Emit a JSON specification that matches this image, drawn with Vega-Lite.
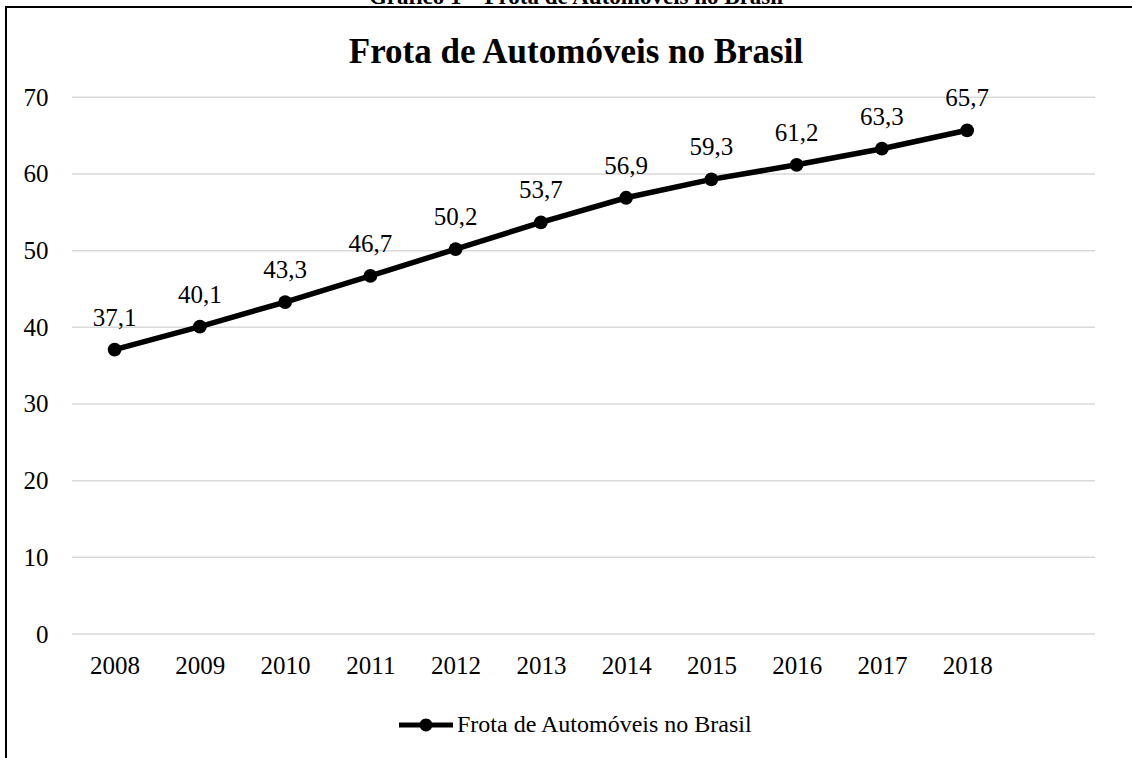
{
  "$schema": "https://vega.github.io/schema/vega-lite/v6.json",
  "width": 1140,
  "height": 770,
  "autosize": "none",
  "padding": {"left": 6, "top": 7, "right": 0, "bottom": 0},
  "background": "white",
  "config": {
    "font": "Liberation Serif",
    "locale": {"number": {"decimal": ",", "thousands": ".", "grouping": [3], "currency": ["", ""]}},
    "view": {"stroke": "#000000", "strokeWidth": 2}
  },
  "title": {
    "text": "Gráfico 1 – Frota de Automóveis no Brasil",
    "subtitle": "Frota de Automóveis no Brasil",
    "font": "Liberation Serif",
    "fontSize": 23,
    "fontWeight": "bold",
    "color": "#000000",
    "subtitleFont": "Liberation Serif",
    "subtitleFontSize": 35,
    "subtitleFontWeight": "bold",
    "subtitleColor": "#000000",
    "anchor": "middle",
    "frame": "group",
    "offset": -63,
    "subtitlePadding": 26
  },
  "datasets": {
    "frota": [
      {"ano": 2008, "frota": 37.1, "serie": "Frota de Automóveis no Brasil"},
      {"ano": 2009, "frota": 40.1, "serie": "Frota de Automóveis no Brasil"},
      {"ano": 2010, "frota": 43.3, "serie": "Frota de Automóveis no Brasil"},
      {"ano": 2011, "frota": 46.7, "serie": "Frota de Automóveis no Brasil"},
      {"ano": 2012, "frota": 50.2, "serie": "Frota de Automóveis no Brasil"},
      {"ano": 2013, "frota": 53.7, "serie": "Frota de Automóveis no Brasil"},
      {"ano": 2014, "frota": 56.9, "serie": "Frota de Automóveis no Brasil"},
      {"ano": 2015, "frota": 59.3, "serie": "Frota de Automóveis no Brasil"},
      {"ano": 2016, "frota": 61.2, "serie": "Frota de Automóveis no Brasil"},
      {"ano": 2017, "frota": 63.3, "serie": "Frota de Automóveis no Brasil"},
      {"ano": 2018, "frota": 65.7, "serie": "Frota de Automóveis no Brasil"}
    ],
    "grade": [
      {"g": 0}, {"g": 10}, {"g": 20}, {"g": 30}, {"g": 40}, {"g": 50}, {"g": 60}, {"g": 70}
    ]
  },
  "layer": [
    {
      "data": {"name": "grade"},
      "mark": {"type": "rule", "color": "#d9d9d9", "strokeWidth": 1.5},
      "encoding": {
        "y": {
          "field": "g",
          "type": "quantitative",
          "scale": {"domain": [-18.65, 81.78], "nice": false, "zero": false},
          "axis": {
            "values": [0, 10, 20, 30, 40, 50, 60, 70],
            "orient": "left",
            "offset": -42,
            "ticks": false,
            "tickSize": 0,
            "domain": false,
            "grid": false,
            "labelPadding": 0,
            "labelFontSize": 25,
            "labelFont": "Liberation Serif",
            "labelColor": "#000000",
            "labelAlign": "right",
            "title": null
          }
        },
        "x": {"datum": 2007.5, "type": "quantitative"},
        "x2": {"datum": 2019.5}
      }
    },
    {
      "data": {"name": "frota"},
      "mark": {"type": "line", "color": "#000000", "strokeWidth": 5.5},
      "encoding": {
        "x": {
          "field": "ano",
          "type": "quantitative",
          "scale": {"domain": [2006.726, 2020.098], "nice": false, "zero": false},
          "axis": {
            "values": [2008, 2009, 2010, 2011, 2012, 2013, 2014, 2015, 2016, 2017, 2018],
            "format": "d",
            "orient": "bottom",
            "offset": -111.5,
            "ticks": false,
            "tickSize": 0,
            "domain": false,
            "grid": false,
            "labelPadding": 0,
            "labelBaseline": "middle",
            "labelFontSize": 25,
            "labelFont": "Liberation Serif",
            "labelColor": "#000000",
            "title": null
          }
        },
        "y": {"field": "frota", "type": "quantitative"}
      }
    },
    {
      "data": {"name": "frota"},
      "mark": {"type": "point", "filled": true, "size": 190, "opacity": 1},
      "encoding": {
        "x": {"field": "ano", "type": "quantitative"},
        "y": {"field": "frota", "type": "quantitative"},
        "color": {
          "field": "serie",
          "type": "nominal",
          "scale": {"range": ["#000000"]},
          "legend": {
            "orient": "none",
            "legendX": 393,
            "legendY": 691,
            "title": null,
            "symbolType": "M-1,-0.09L1,-0.09L1,0.09L-1,0.09Z M-0.24,0A0.24,0.24 0 1,1 0.24,0A0.24,0.24 0 1,1 -0.24,0Z",
            "symbolSize": 2916,
            "symbolFillColor": "#000000",
            "symbolStrokeWidth": 0,
            "labelFontSize": 24,
            "labelFont": "Liberation Serif",
            "labelColor": "#000000",
            "labelOffset": 4,
            "labelLimit": 0
          }
        }
      }
    },
    {
      "data": {"name": "frota"},
      "mark": {"type": "text", "dy": -24, "baseline": "alphabetic", "align": "center", "fontSize": 25, "font": "Liberation Serif", "color": "#000000"},
      "encoding": {
        "x": {"field": "ano", "type": "quantitative"},
        "y": {"field": "frota", "type": "quantitative"},
        "text": {"field": "frota", "type": "quantitative", "format": ".1f"}
      }
    }
  ]
}
